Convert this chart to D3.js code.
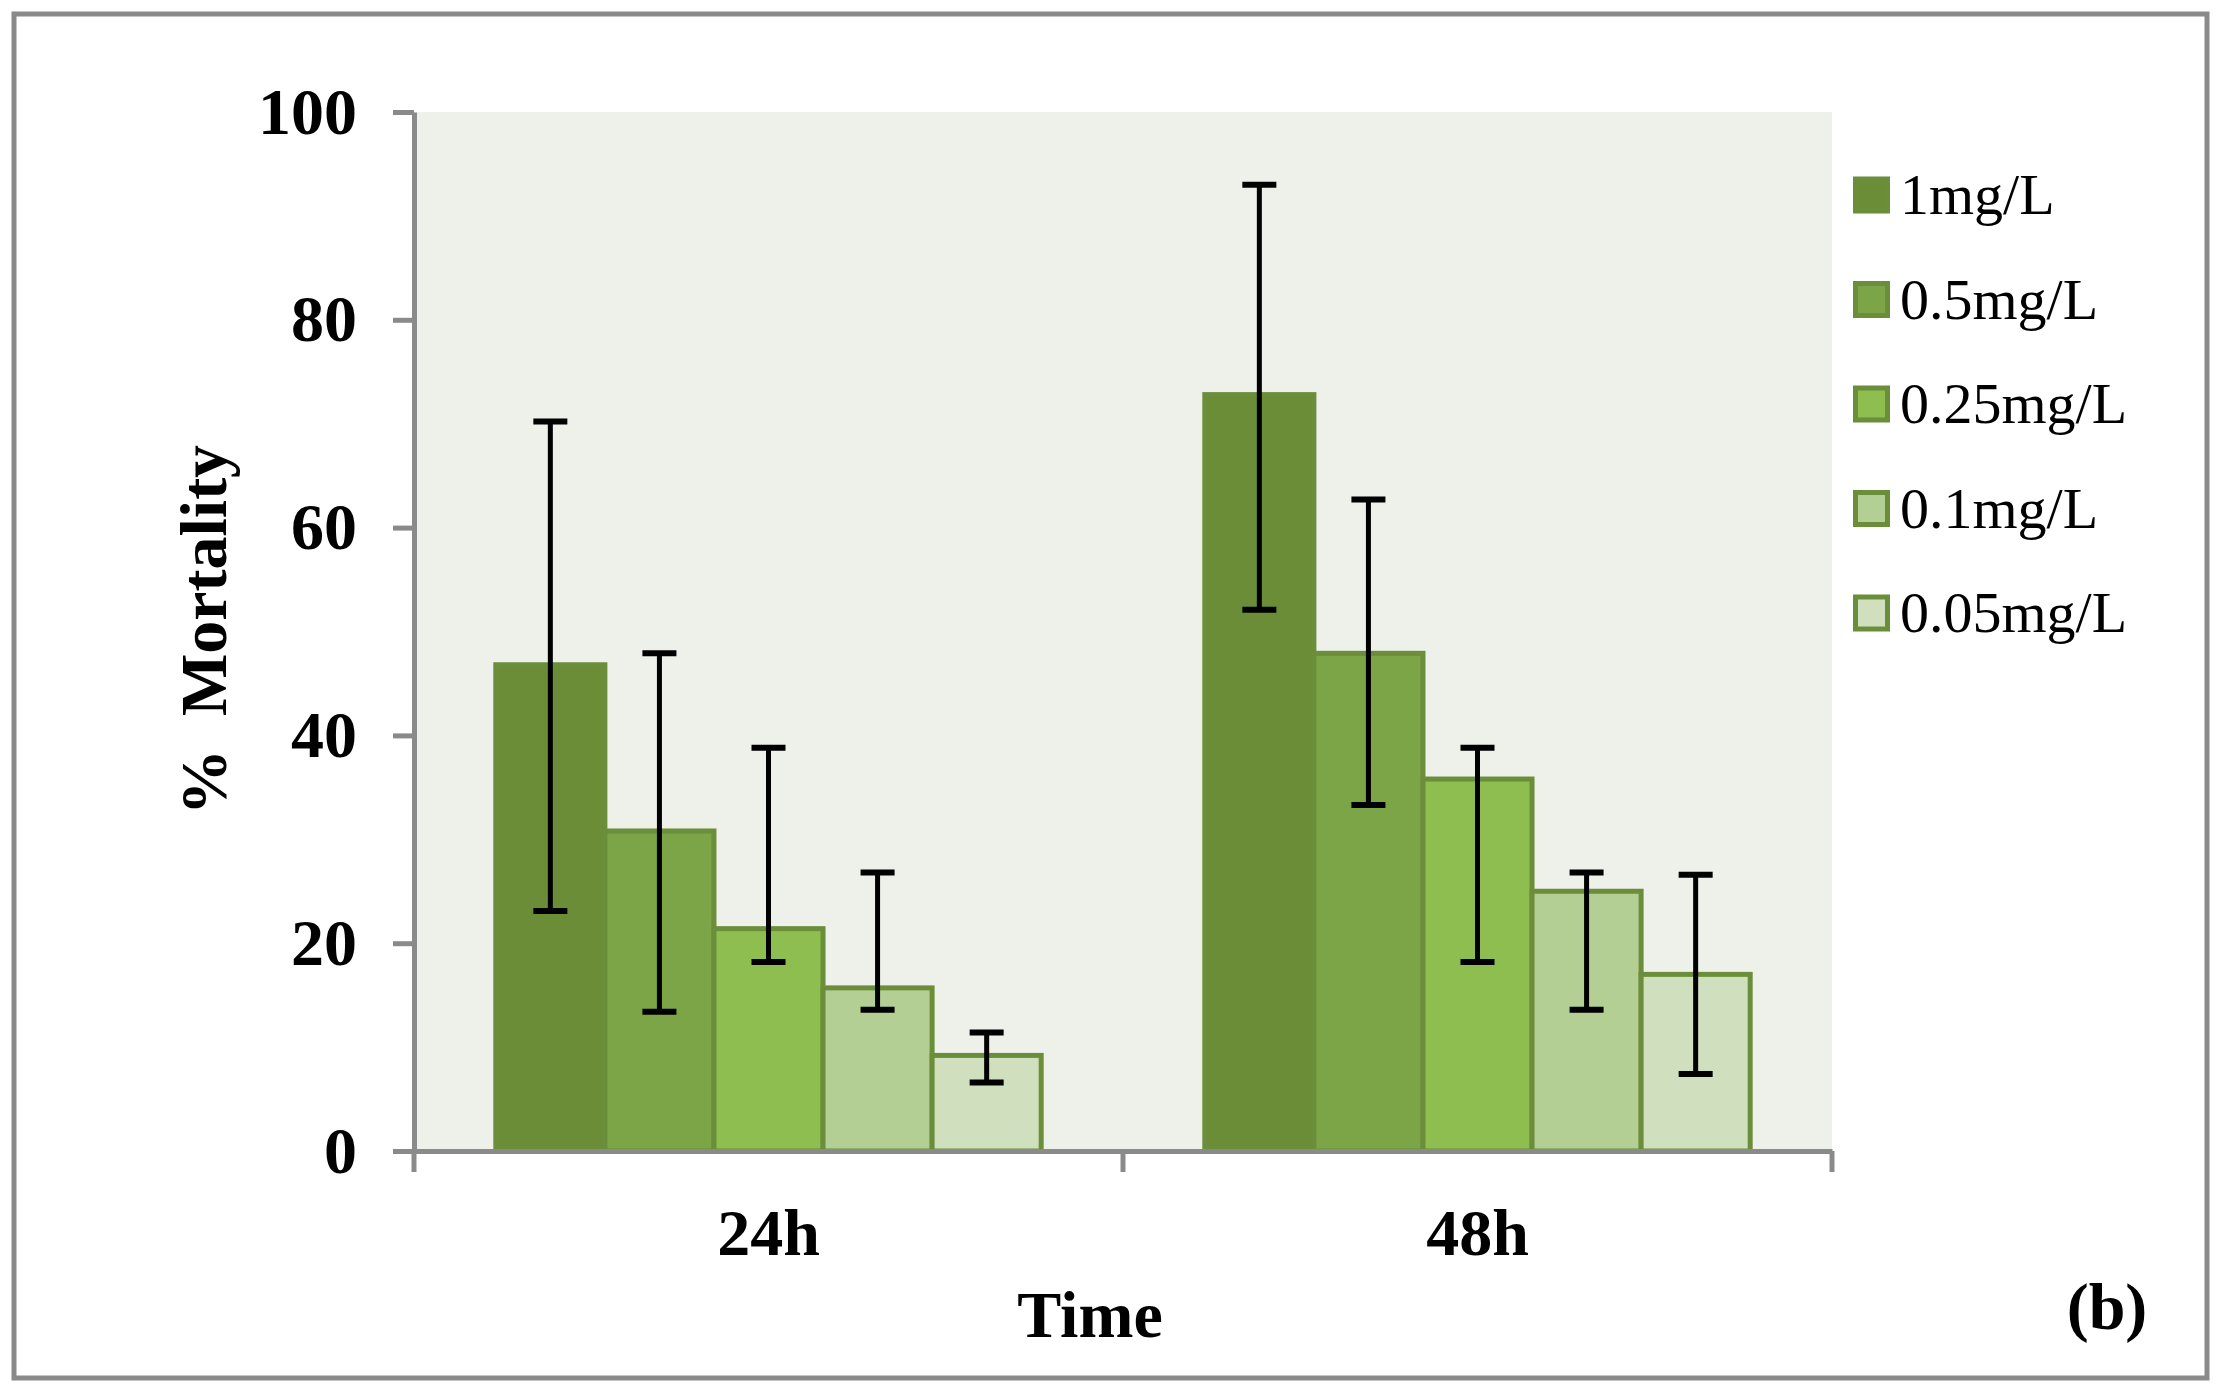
<!DOCTYPE html>
<html>
<head>
<meta charset="utf-8">
<script src="https://cdn.jsdelivr.net/npm/d3@7"></script>
<style>
  body { margin: 0; background: #fff; }
  svg text { font-family: "Liberation Serif", "Times New Roman", serif; }
</style>
</head>
<body>
<svg id="chart"></svg>
<script>
// Data
const times = ["24h", "48h"];
const doses = ["1mg/L", "0.5mg/L", "0.25mg/L", "0.1mg/L", "0.05mg/L"];
const colors = ["#6c8d38", "#7ba546", "#8ebd50", "#b3cf94", "#d0e0bf"];

// % mortality per dose, one array per time point
const mean24 = [46.8, 30.8, 21.4, 15.7, 9.2];
const mean48 = [72.8, 47.9, 35.8, 25.0, 17.0];
// error bar ends (high / low)
const high24 = [70.2, 47.9, 38.8, 26.8, 11.4];
const low24  = [23.1, 13.4, 18.2, 13.6, 6.6];
const high48 = [93.0, 62.7, 38.8, 26.8, 26.6];
const low48  = [52.1, 33.3, 18.2, 13.6, 7.4];

const yTicks = [0, 20, 40, 60, 80, 100];

const W = 2222, H = 1392;
const plot = {left: 414, right: 1832, top: 112, bottom: 1151};

const rows = [];
times.forEach((t, ti) => {
  const m = ti === 0 ? mean24 : mean48;
  const hi = ti === 0 ? high24 : high48;
  const lo = ti === 0 ? low24 : low48;
  doses.forEach((d, di) => {
    rows.push({time: t, dose: d, value: m[di], high: hi[di], low: lo[di], color: colors[di]});
  });
});

const svg = d3.select("#chart").attr("width", W).attr("height", H);

// outer frame
svg.append("rect")
    .attr("x", 14).attr("y", 14)
    .attr("width", 2193).attr("height", 1364)
    .attr("fill", "#fff")
    .attr("stroke", "#8a8a8a")
    .attr("stroke-width", 5);

// Scales
const x0 = d3.scaleBand()
    .domain(times)
    .range([plot.left, plot.right])
    .padding(0);

const x1 = d3.scaleBand()
    .domain(doses)
    .range([0, x0.bandwidth()])
    .paddingInner(0)
    .paddingOuter(0.75);

const y = d3.scaleLinear()
    .domain([0, 100])
    .range([plot.bottom, plot.top]);

// plot background
svg.append("rect")
    .attr("x", plot.left).attr("y", plot.top)
    .attr("width", plot.right - plot.left)
    .attr("height", plot.bottom - plot.top)
    .attr("fill", "#edf1ea");

// Bars
svg.append("g")
  .selectAll("rect")
  .data(rows)
  .enter()
  .append("rect")
    .attr("x", d => x0(d.time) + x1(d.dose))
    .attr("width", x1.bandwidth())
    .attr("y", d => y(d.value))
    .attr("height", d => y(0) - y(d.value))
    .attr("fill", d => d.color)
    .attr("stroke", "#6b8e3a")
    .attr("stroke-width", 5);

// Error bars
const eb = svg.append("g")
  .selectAll("g")
  .data(rows)
  .enter()
  .append("g")
    .attr("transform", d => `translate(${x0(d.time) + x1(d.dose) + x1.bandwidth() / 2},0)`);

eb.append("line")
    .attr("x1", 0).attr("x2", 0)
    .attr("y1", d => y(d.high))
    .attr("y2", d => y(d.low))
    .attr("stroke", "#000")
    .attr("stroke-width", 5);

eb.selectAll(".cap")
  .data(d => [d.high, d.low])
  .enter()
  .append("line")
    .attr("class", "cap")
    .attr("x1", -17).attr("x2", 17)
    .attr("y1", v => y(v))
    .attr("y2", v => y(v))
    .attr("stroke", "#000")
    .attr("stroke-width", 6);

// Y axis
const yAxis = svg.append("g")
    .attr("transform", `translate(${plot.left},0)`)
    .call(d3.axisLeft(y).tickValues(yTicks).tickSize(21).tickSizeOuter(0).tickPadding(36));

// X axis (labels centred, ticks at category borders)
const xAxis = svg.append("g")
    .attr("transform", `translate(0,${plot.bottom})`)
    .call(d3.axisBottom(x0).tickSize(0).tickSizeOuter(0).tickPadding(57));

xAxis.selectAll(".border")
  .data(times.map(t => x0(t)).concat([plot.right]))
  .enter()
  .append("line")
    .attr("class", "border")
    .attr("x1", d => d).attr("x2", d => d)
    .attr("y1", 0).attr("y2", 21);

[yAxis, xAxis].forEach(a => {
  a.selectAll("path.domain")
      .attr("stroke", "#8a8a8a")
      .attr("stroke-width", 5);
  a.selectAll("line")
      .attr("stroke", "#8a8a8a")
      .attr("stroke-width", 5);
  a.selectAll("text")
      .attr("fill", "#000")
      .style("font-size", "66px")
      .style("font-weight", "bold")
      .style("font-family", "'Liberation Serif', 'Times New Roman', serif");
});

// Axis titles
svg.append("text")
    .attr("transform", "translate(226,630) rotate(-90)")
    .attr("text-anchor", "middle")
    .style("font-size", "66px")
    .style("font-weight", "bold")
    .style("white-space", "pre")
    .text("%  Mortality");

svg.append("text")
    .attr("x", 1090).attr("y", 1337)
    .attr("text-anchor", "middle")
    .style("font-size", "66px")
    .style("font-weight", "bold")
    .text("Time");

svg.append("text")
    .attr("x", 2107).attr("y", 1329)
    .attr("text-anchor", "middle")
    .style("font-size", "66px")
    .style("font-weight", "bold")
    .text("(b)");

// Legend
const legend = svg.append("g")
  .selectAll("g")
  .data(doses)
  .enter()
  .append("g")
    .attr("transform", (d, i) => `translate(1853,${195 + i * 104.5})`);

legend.append("rect")
    .attr("x", 2.5).attr("y", -16)
    .attr("width", 32).attr("height", 32)
    .attr("fill", (d, i) => colors[i])
    .attr("stroke", "#6b8e3a")
    .attr("stroke-width", 5);

legend.append("text")
    .attr("x", 47)
    .attr("y", 19)
    .style("font-size", "58px")
    .text(d => d);
</script>
</body>
</html>
